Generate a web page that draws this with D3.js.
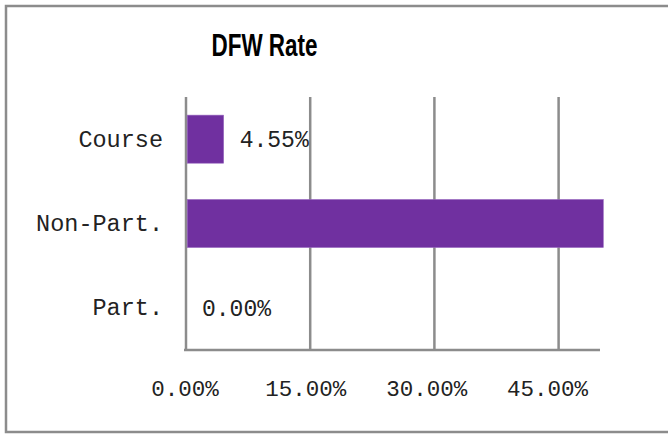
<!DOCTYPE html>
<html>
<head>
<meta charset="utf-8">
<script src="https://cdn.jsdelivr.net/npm/d3@7"></script>
<style>
  body { margin: 0; background: #fff; }
  svg { display: block; }
</style>
</head>
<body>
<svg class="chart" width="668" height="434"></svg>
<script>
var categories = ["Course", "Non-Part.", "Part."]
var rates = [4.55, 50.4, 0]
var ticks = [0, 15, 30, 45]
var title = "DFW Rate"

var svg = d3.select("svg.chart")
var grey = "#8c8c8c"
var purple = "#7030a0"
var mono = "'Liberation Mono', 'Courier New', monospace"

// outer frame (runs off the right edge like the original)
svg.append("rect")
  .attr("x", 6).attr("y", 6)
  .attr("width", 720).attr("height", 426)
  .attr("fill", "#fff")
  .attr("stroke", grey).attr("stroke-width", 2.5)

svg.append("text")
  .attr("x", 264.5).attr("y", 55.5)
  .attr("text-anchor", "middle")
  .attr("font-family", "'Liberation Sans', Arial, sans-serif")
  .attr("font-weight", "bold")
  .attr("font-size", 30.5)
  .attr("textLength", 106)
  .attr("lengthAdjust", "spacingAndGlyphs")
  .attr("fill", "#000")
  .text(title)

var x = d3.scaleLinear().domain([0, 50]).range([186, 600])
var y = d3.scaleBand().domain(categories).range([97, 350]).paddingInner(0.43).paddingOuter(0.215)

// vertical gridlines
svg.selectAll(".grid")
  .data(ticks)
  .enter().append("line")
  .attr("class", "grid")
  .attr("x1", d => x(d)).attr("x2", d => x(d))
  .attr("y1", 97).attr("y2", 350)
  .attr("stroke", grey).attr("stroke-width", 2.5)

// bars (not clipped, the big one spills past the axis end)
svg.selectAll(".bar")
  .data(rates)
  .enter().append("rect")
  .attr("class", "bar")
  .attr("x", x(0) + 1.2)
  .attr("y", (d, i) => y(categories[i]))
  .attr("width", d => Math.max(0, x(d) - x(0) - 1.2))
  .attr("height", y.bandwidth())
  .attr("fill", purple)
  .attr("stroke", "#9a6cc0").attr("stroke-width", 0.6)

// value labels, the one past the plot area is hidden
svg.selectAll(".val")
  .data(rates.filter(d => d <= 50))
  .enter().append("text")
  .attr("class", "val")
  .attr("x", d => x(d) + 16)
  .attr("y", d => y(categories[rates.indexOf(d)]) + y.bandwidth() / 2)
  .attr("dy", "0.35em")
  .attr("font-family", mono)
  .attr("font-size", 23)
  .attr("fill", "#222")
  .text(d => d.toFixed(2) + "%")

// category axis
var yAxis = svg.append("g")
  .attr("transform", "translate(" + x(0) + ",0)")
  .call(d3.axisLeft(y).tickSize(0).tickPadding(23))
yAxis.select(".domain").remove()
yAxis.selectAll("text")
  .attr("font-family", mono)
  .attr("font-size", 23.5)
  .attr("fill", "#222")

// value axis
var xAxis = svg.append("g")
  .attr("transform", "translate(0,350)")
  .call(d3.axisBottom(x).tickValues(ticks).tickSize(0).tickPadding(30)
    .tickFormat(d => d.toFixed(2) + "%"))
xAxis.select(".domain")
  .attr("d", "M" + (x(0) - 2) + ",0H" + x(50))
  .attr("stroke", grey).attr("stroke-width", 2.5)
xAxis.selectAll("text")
  .attr("font-family", mono)
  .attr("font-size", 22.5)
  .attr("fill", "#222")
  .attr("dx", d => -1.6 - d / 15 * 3.3)
</script>
</body>
</html>
